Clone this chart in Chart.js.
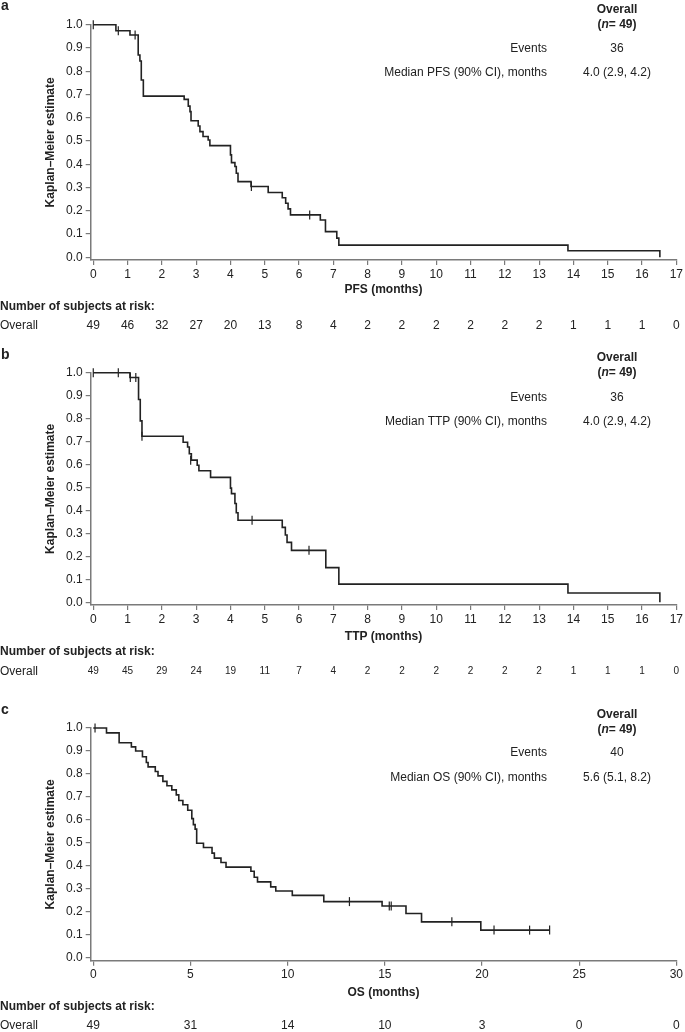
<!DOCTYPE html>
<html>
<head>
<meta charset="utf-8">
<script src="https://cdn.jsdelivr.net/npm/chart.js@4/dist/chart.umd.min.js"></script>
<style>
  body { margin: 0; background: #fff; }
  .panel { position: absolute; left: 0; width: 685px; }
</style>
</head>
<body>
<div class="panel" style="top:0"><canvas id="chart-a" width="685" height="340"></canvas></div>
<div class="panel" style="top:340px"><canvas id="chart-b" width="685" height="345"></canvas></div>
<div class="panel" style="top:685px"><canvas id="chart-c" width="685" height="347"></canvas></div>
<script>
// tick labels
const yTicks = [0, 0.1, 0.2, 0.3, 0.4, 0.5, 0.6, 0.7, 0.8, 0.9, 1.0];
const monthTicks = [0, 1, 2, 3, 4, 5, 6, 7, 8, 9, 10, 11, 12, 13, 14, 15, 16, 17];
const osTicks = [0, 5, 10, 15, 20, 25, 30];

// a - PFS
const pfsTime = [0, 0.66, 1.07, 1.31, 1.36, 1.40, 1.46, 2.65, 2.77, 2.82, 2.85, 3.06, 3.11, 3.20, 3.35, 3.40,
  4.00, 4.03, 4.13, 4.17, 4.22, 4.60, 5.10, 5.51, 5.61, 5.68, 5.75, 6.62, 6.77, 7.10, 7.16, 13.84, 16.52];
const pfsSurv = [1.0, 0.974, 0.956, 0.870, 0.844, 0.762, 0.693, 0.679, 0.650, 0.626, 0.587, 0.564, 0.540, 0.519, 0.504, 0.480,
  0.440, 0.407, 0.390, 0.361, 0.325, 0.304, 0.278, 0.256, 0.232, 0.208, 0.182, 0.160, 0.110, 0.082, 0.052, 0.028, 0.0];
const pfsCensorTime = [0, 0.73, 1.22, 4.61, 6.31];
const pfsCensorSurv = [1.0, 0.974, 0.956, 0.304, 0.182];
const pfsRisk = [49, 46, 32, 27, 20, 13, 8, 4, 2, 2, 2, 2, 2, 2, 1, 1, 1, 0];
const pfsRows = [["Events", "36"], ["Median PFS (90% CI), months", "4.0 (2.9, 4.2)"]];

// b - TTP
const ttpTime = [0, 1.07, 1.32, 1.37, 1.42, 2.62, 2.75, 2.80, 2.86, 3.03, 3.08, 3.42,
  4.00, 4.03, 4.13, 4.17, 4.22, 5.51, 5.60, 5.65, 5.78, 6.78, 7.16, 13.84, 16.52];
const ttpSurv = [1.0, 0.979, 0.883, 0.790, 0.723, 0.697, 0.676, 0.647, 0.619, 0.597, 0.573, 0.544,
  0.497, 0.473, 0.430, 0.390, 0.357, 0.326, 0.293, 0.261, 0.226, 0.151, 0.079, 0.040, 0.0];
const ttpCensorTime = [0, 0.73, 1.08, 1.24, 1.42, 2.84, 4.63, 6.29];
const ttpCensorSurv = [1.0, 1.0, 0.979, 0.979, 0.723, 0.619, 0.357, 0.226];
const ttpRisk = [49, 45, 29, 24, 19, 11, 7, 4, 2, 2, 2, 2, 2, 2, 1, 1, 1, 0];
const ttpRows = [["Events", "36"], ["Median TTP (90% CI), months", "4.0 (2.9, 4.2)"]];

// c - OS
const osTime = [0, 0.68, 1.33, 1.96, 2.18, 2.53, 2.73, 2.82, 3.19, 3.33, 3.58, 3.79, 4.04, 4.27, 4.40, 4.61, 4.86,
  5.07, 5.15, 5.24, 5.32, 5.67, 6.11, 6.23, 6.57, 6.83, 8.11, 8.28, 8.45, 9.13, 9.39, 10.24, 11.86,
  14.86, 16.09, 16.89, 19.94, 23.48];
const osSurv = [1.0, 0.979, 0.936, 0.918, 0.900, 0.875, 0.850, 0.831, 0.811, 0.792, 0.768, 0.749, 0.731, 0.709, 0.685, 0.666, 0.642,
  0.606, 0.580, 0.560, 0.499, 0.480, 0.456, 0.434, 0.415, 0.395, 0.377, 0.351, 0.331, 0.309, 0.291, 0.272, 0.245,
  0.226, 0.193, 0.157, 0.121, 0.121];
const osCensorTime = [0.09, 13.18, 15.23, 15.33, 18.45, 20.62, 22.45, 23.48];
const osCensorSurv = [1.0, 0.245, 0.226, 0.226, 0.157, 0.121, 0.121, 0.121];
const osRisk = [49, 31, 14, 10, 3, 0, 0];
const osRows = [["Events", "40"], ["Median OS (90% CI), months", "5.6 (5.1, 8.2)"]];

const FONT = '"Liberation Sans", Arial, Helvetica, sans-serif';
const INK = '#222';
const AXIS = '#7a7a7a';

const extrasPlugin = {
  id: 'extras',
  afterDraw(chart, args, o) {
    const ctx = chart.ctx;
    const x = chart.scales.x;
    ctx.save();
    ctx.fillStyle = INK;
    ctx.textBaseline = 'middle';

    ctx.font = 'bold 14px ' + FONT;
    ctx.textAlign = 'left';
    ctx.fillText(o.letter, 1, o.letterY);

    // summary table
    ctx.font = 'bold 12px ' + FONT;
    ctx.textAlign = 'center';
    ctx.fillText('Overall', 617, o.tableY[0]);
    const parts = [['(', 'bold 12px '], ['n', 'italic bold 12px '], ['= 49)', 'bold 12px ']];
    let w = 0;
    parts.forEach(p => { ctx.font = p[1] + FONT; w += ctx.measureText(p[0]).width; });
    let px = 617 - w / 2;
    ctx.textAlign = 'left';
    parts.forEach(p => { ctx.font = p[1] + FONT; ctx.fillText(p[0], px, o.tableY[1]); px += ctx.measureText(p[0]).width; });

    ctx.font = '12px ' + FONT;
    o.rows.forEach((r, i) => {
      ctx.textAlign = 'right';
      ctx.fillText(r[0], 547, o.tableY[2 + i]);
      ctx.textAlign = 'center';
      ctx.fillText(r[1], 617, o.tableY[2 + i]);
    });

    // subjects at risk
    ctx.textAlign = 'left';
    ctx.font = 'bold 12px ' + FONT;
    ctx.fillText('Number of subjects at risk:', 0, o.riskHeaderY);
    ctx.font = '12px ' + FONT;
    ctx.fillText('Overall', 0, o.riskRowY);
    ctx.textAlign = 'center';
    ctx.font = o.riskSize + 'px ' + FONT;
    o.riskTimes.forEach((t, i) => {
      ctx.fillText(String(o.risk[i]), x.getPixelForValue(t), o.riskRowY);
    });
    ctx.restore();
  }
};

function makeChart(id, o) {
  return new Chart(document.getElementById(id), {
    type: 'scatter',
    data: {
      datasets: [
        {
          type: 'line',
          data: o.time.map((t, i) => ({ x: t, y: o.surv[i] })),
          stepped: true,
          borderColor: INK,
          borderWidth: 1.6,
          pointRadius: 0,
          fill: false,
          clip: false
        },
        {
          type: 'scatter',
          data: o.censorTime.map((t, i) => ({ x: t, y: o.censorSurv[i] })),
          pointStyle: 'line',
          rotation: 90,
          pointRadius: 4.5,
          borderColor: INK,
          borderWidth: 1.2,
          clip: false
        }
      ]
    },
    options: {
      responsive: false,
      animation: false,
      events: [],
      layout: { padding: { top: o.top, right: 7, bottom: o.bottom, left: 0 } },
      plugins: {
        legend: { display: false },
        tooltip: { enabled: false },
        extras: o.extras
      },
      scales: {
        x: {
          type: 'linear',
          min: o.xMin,
          max: o.xMax,
          afterBuildTicks: s => { s.ticks = o.xTicks.map(v => ({ value: v })); },
          afterFit: s => { s.height = 40; },
          grid: { display: true, drawOnChartArea: false, drawTicks: true, tickLength: 5, color: AXIS, lineWidth: 1.2 },
          border: { display: true, color: AXIS, width: 1.5 },
          ticks: { font: { family: FONT, size: 12 }, color: INK, padding: 2, maxRotation: 0, autoSkip: false },
          title: { display: true, text: o.xTitle, color: INK, font: { family: FONT, size: 12, weight: 'bold' }, padding: { top: 0, bottom: o.xTitlePad } }
        },
        y: {
          type: 'linear',
          min: -0.012,
          max: 1.0,
          afterBuildTicks: s => { s.ticks = yTicks.map(v => ({ value: v })); },
          afterFit: s => { s.width = 90.7; },
          grid: { display: true, drawOnChartArea: false, drawTicks: true, tickLength: 5, color: AXIS, lineWidth: 1.2 },
          border: { display: true, color: AXIS, width: 1.5 },
          ticks: { font: { family: FONT, size: 12 }, color: INK, padding: 3, callback: v => Number(v).toFixed(1) },
          title: { display: true, text: 'Kaplan–Meier estimate', color: INK, font: { family: FONT, size: 12, weight: 'bold' }, padding: { top: 43, bottom: 0 } }
        }
      }
    },
    plugins: [extrasPlugin]
  });
}

makeChart('chart-a', {
  time: pfsTime, surv: pfsSurv, censorTime: pfsCensorTime, censorSurv: pfsCensorSurv,
  xMin: -0.075, xMax: 17, xTicks: monthTicks, xTitle: 'PFS (months)', xTitlePad: 2.8,
  top: 24.7, bottom: 40,
  extras: { letter: 'a', letterY: 6, tableY: [10, 25, 49, 73], rows: pfsRows,
    riskHeaderY: 306.7, riskRowY: 326, riskSize: 12, riskTimes: monthTicks, risk: pfsRisk }
});

makeChart('chart-b', {
  time: ttpTime, surv: ttpSurv, censorTime: ttpCensorTime, censorSurv: ttpCensorSurv,
  xMin: -0.075, xMax: 17, xTicks: monthTicks, xTitle: 'TTP (months)', xTitlePad: 0.8,
  top: 32.7, bottom: 40,
  extras: { letter: 'b', letterY: 15, tableY: [18, 33, 58, 82], rows: ttpRows,
    riskHeaderY: 311.7, riskRowY: 331.7, riskSize: 10, riskTimes: monthTicks, risk: ttpRisk }
});

makeChart('chart-c', {
  time: osTime, surv: osSurv, censorTime: osCensorTime, censorSurv: osCensorSurv,
  xMin: -0.133, xMax: 30, xTicks: osTicks, xTitle: 'OS (months)', xTitlePad: 0.5,
  top: 43, bottom: 31.3,
  extras: { letter: 'c', letterY: 25, tableY: [30, 45, 68, 93], rows: osRows,
    riskHeaderY: 321.7, riskRowY: 341, riskSize: 12, riskTimes: osTicks, risk: osRisk }
});
</script>
</body>
</html>
